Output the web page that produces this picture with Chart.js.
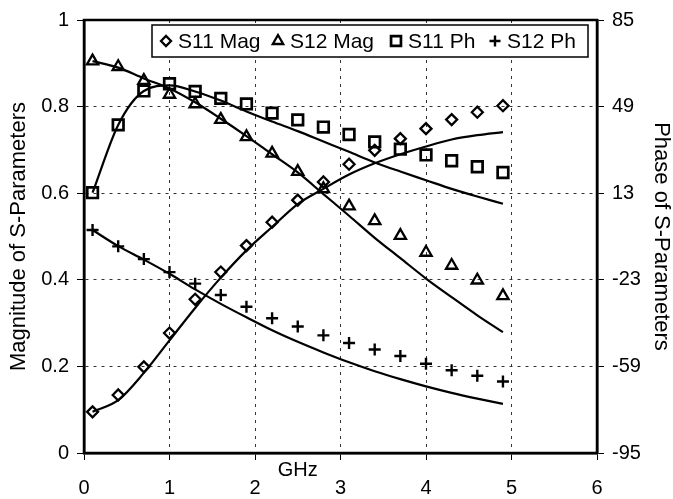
<!DOCTYPE html>
<html>
<head>
<meta charset="utf-8">
<script src="https://cdn.jsdelivr.net/npm/chart.js@4"></script>
<style>
  html, body { margin: 0; padding: 0; background: #fff; }
  #wrap { width: 673px; height: 499px; }
</style>
</head>
<body>
<div id="wrap"><canvas id="spChart"></canvas></div>
<script>
// frequency points (GHz)
const freq = [0.1, 0.4, 0.7, 1.0, 1.3, 1.6, 1.9, 2.2, 2.5, 2.8, 3.1, 3.4, 3.7, 4.0, 4.3, 4.6, 4.9];

// measured (markers)
const s11MagMeas = [0.095, 0.134, 0.199, 0.277, 0.355, 0.418, 0.479, 0.533, 0.584, 0.626, 0.667, 0.699, 0.726, 0.749, 0.770, 0.787, 0.802];
const s12MagMeas = [0.905, 0.892, 0.860, 0.828, 0.806, 0.770, 0.730, 0.692, 0.650, 0.610, 0.570, 0.536, 0.502, 0.463, 0.433, 0.399, 0.363];
const s11PhMeas = [13.2, 41.4, 55.5, 58.5, 55.3, 52.4, 50.1, 46.3, 43.5, 40.5, 37.4, 34.3, 31.3, 28.9, 26.5, 24.0, 21.6];
const s12PhMeas = [-2.3, -9.1, -14.4, -19.8, -24.6, -29.3, -34.2, -39.0, -42.4, -46.1, -49.3, -52.0, -54.7, -57.9, -60.6, -62.9, -65.3];

// model (solid lines)
const s11MagModel = [0.095, 0.122, 0.185, 0.260, 0.335, 0.405, 0.468, 0.522, 0.575, 0.610, 0.643, 0.669, 0.690, 0.708, 0.724, 0.734, 0.741];
const s12MagModel = [0.905, 0.890, 0.865, 0.842, 0.810, 0.772, 0.732, 0.690, 0.648, 0.598, 0.548, 0.497, 0.450, 0.403, 0.360, 0.318, 0.279];
const s11PhModel = [13.2, 41.4, 55.5, 57.8, 55.3, 51.5, 47.0, 42.8, 38.8, 34.5, 30.2, 25.8, 22.0, 18.4, 14.8, 11.6, 8.6];
const s12PhModel = [-2.3, -9.0, -14.6, -20.5, -27.0, -33.0, -38.6, -44.0, -48.8, -53.2, -57.3, -61.0, -64.3, -67.3, -70.0, -72.4, -74.6];

// axis ticks
const ghzTicks = [0, 1, 2, 3, 4, 5, 6];
const magTicks = [0, 0.2, 0.4, 0.6, 0.8, 1];
const phaseTicks = [-95, -59, -23, 13, 49, 85];

const FONT = "'Liberation Sans', Arial, Helvetica, sans-serif";
Chart.defaults.font.family = FONT;
Chart.defaults.color = '#000';

const pts = (ys) => freq.map((f, i) => ({ x: f, y: ys[i] }));

function marker(label, ys, axis, style, radius, bw) {
  return {
    label: label,
    data: pts(ys),
    yAxisID: axis,
    showLine: false,
    pointStyle: style,
    pointRadius: radius,
    pointHoverRadius: radius,
    pointBorderWidth: bw,
    pointBorderColor: '#000',
    pointBackgroundColor: 'rgba(0,0,0,0)',
    order: 1
  };
}
function model(ys, axis) {
  return {
    label: '',
    data: pts(ys),
    yAxisID: axis,
    showLine: true,
    borderColor: '#000',
    borderWidth: 2.2,
    pointRadius: 0,
    cubicInterpolationMode: 'monotone',
    fill: false,
    order: 2
  };
}

// frame + GHz label + boxed legend
const extras = {
  id: 'extras',
  afterDraw(chart) {
    const ctx = chart.ctx;
    const a = chart.chartArea;
    ctx.save();
    ctx.strokeStyle = '#000';
    ctx.lineWidth = 2.5;
    ctx.strokeRect(a.left, a.top, a.right - a.left, a.bottom - a.top);

    // GHz label
    ctx.fillStyle = '#000';
    ctx.font = '20px ' + FONT;
    ctx.textAlign = 'center';
    ctx.textBaseline = 'top';
    ctx.fillText('GHz', chart.scales.x.getPixelForValue(2.5), a.bottom + 7);

    // legend
    const box = { l: 152, t: 25, r: 588, b: 57 };
    ctx.fillStyle = '#fff';
    ctx.fillRect(box.l, box.t, box.r - box.l, box.b - box.t);
    ctx.lineWidth = 1.5;
    ctx.strokeRect(box.l, box.t, box.r - box.l, box.b - box.t);
    const cy = (box.t + box.b) / 2;
    const items = chart.data.datasets.filter(d => d.label);
    const textX = [178, 290, 408, 507];
    ctx.font = '21px ' + FONT;
    ctx.textAlign = 'left';
    ctx.textBaseline = 'middle';
    items.forEach((d, i) => {
      const mx = textX[i] - 12;
      ctx.lineWidth = d.pointBorderWidth;
      ctx.strokeStyle = '#000';
      ctx.fillStyle = 'rgba(0,0,0,0)';
      Chart.helpers.drawPoint(ctx, { pointStyle: d.pointStyle, radius: d.pointRadius - 0.5, rotation: 0, borderWidth: d.pointBorderWidth }, mx, cy);
      ctx.fillStyle = '#000';
      ctx.fillText(d.label, textX[i], cy + 1);
    });
    ctx.restore();
  }
};

const gridDash = [3, 5];

new Chart(document.getElementById('spChart'), {
  type: 'scatter',
  data: {
    datasets: [
      marker('S11 Mag', s11MagMeas, 'y', 'rectRot', 5.5, 2.3),
      marker('S12 Mag', s12MagMeas, 'y', 'triangle', 6.5, 2.3),
      marker('S11 Ph', s11PhMeas, 'y2', 'rect', 7.5, 2.7),
      marker('S12 Ph', s12PhMeas, 'y2', 'cross', 6, 2.4),
      model(s11MagModel, 'y'),
      model(s12MagModel, 'y'),
      model(s11PhModel, 'y2'),
      model(s12PhModel, 'y2')
    ]
  },
  options: {
    responsive: true,
    maintainAspectRatio: false,
    animation: false,
    layout: { padding: { top: 15, left: 0, right: 0, bottom: 0 } },
    plugins: {
      legend: { display: false },
      tooltip: { enabled: false }
    },
    scales: {
      x: {
        type: 'linear',
        min: 0,
        max: 6,
        afterBuildTicks: (s) => { s.ticks = ghzTicks.map(v => ({ value: v })); },
        afterFit: (s) => { s.height = 46; },
        ticks: { font: { size: 20 }, color: '#000', padding: 16, maxRotation: 0 },
        grid: { color: '#333', lineWidth: 1, tickColor: '#000', tickLength: 7 },
        border: { display: true, color: '#000', width: 2.5, dash: gridDash }
      },
      y: {
        type: 'linear',
        position: 'left',
        min: 0,
        max: 1,
        afterBuildTicks: (s) => { s.ticks = magTicks.map(v => ({ value: v })); },
        afterFit: (s) => { s.width = 84; },
        ticks: { font: { size: 20 }, color: '#000', padding: 8, callback: (v) => String(+v.toFixed(1)) },
        grid: { color: '#333', lineWidth: 1, tickColor: '#000', tickLength: 7 },
        border: { display: true, color: '#000', width: 2.5, dash: gridDash },
        title: { display: true, text: 'Magnitude of S-Parameters', font: { size: 22 }, color: '#000', padding: { top: 6, bottom: 0 } }
      },
      y2: {
        type: 'linear',
        position: 'right',
        min: -95,
        max: 85,
        afterBuildTicks: (s) => { s.ticks = phaseTicks.map(v => ({ value: v })); },
        afterFit: (s) => { s.width = 76; },
        ticks: { font: { size: 20 }, color: '#000', padding: 8 },
        grid: { drawOnChartArea: false, tickColor: '#000', tickLength: 7 },
        border: { display: true, color: '#000', width: 2.5 },
        title: { display: true, text: 'Phase of S-Parameters', font: { size: 22 }, color: '#000', padding: { top: -1, bottom: 0 } }
      }
    }
  },
  plugins: [extras]
});
</script>
</body>
</html>
